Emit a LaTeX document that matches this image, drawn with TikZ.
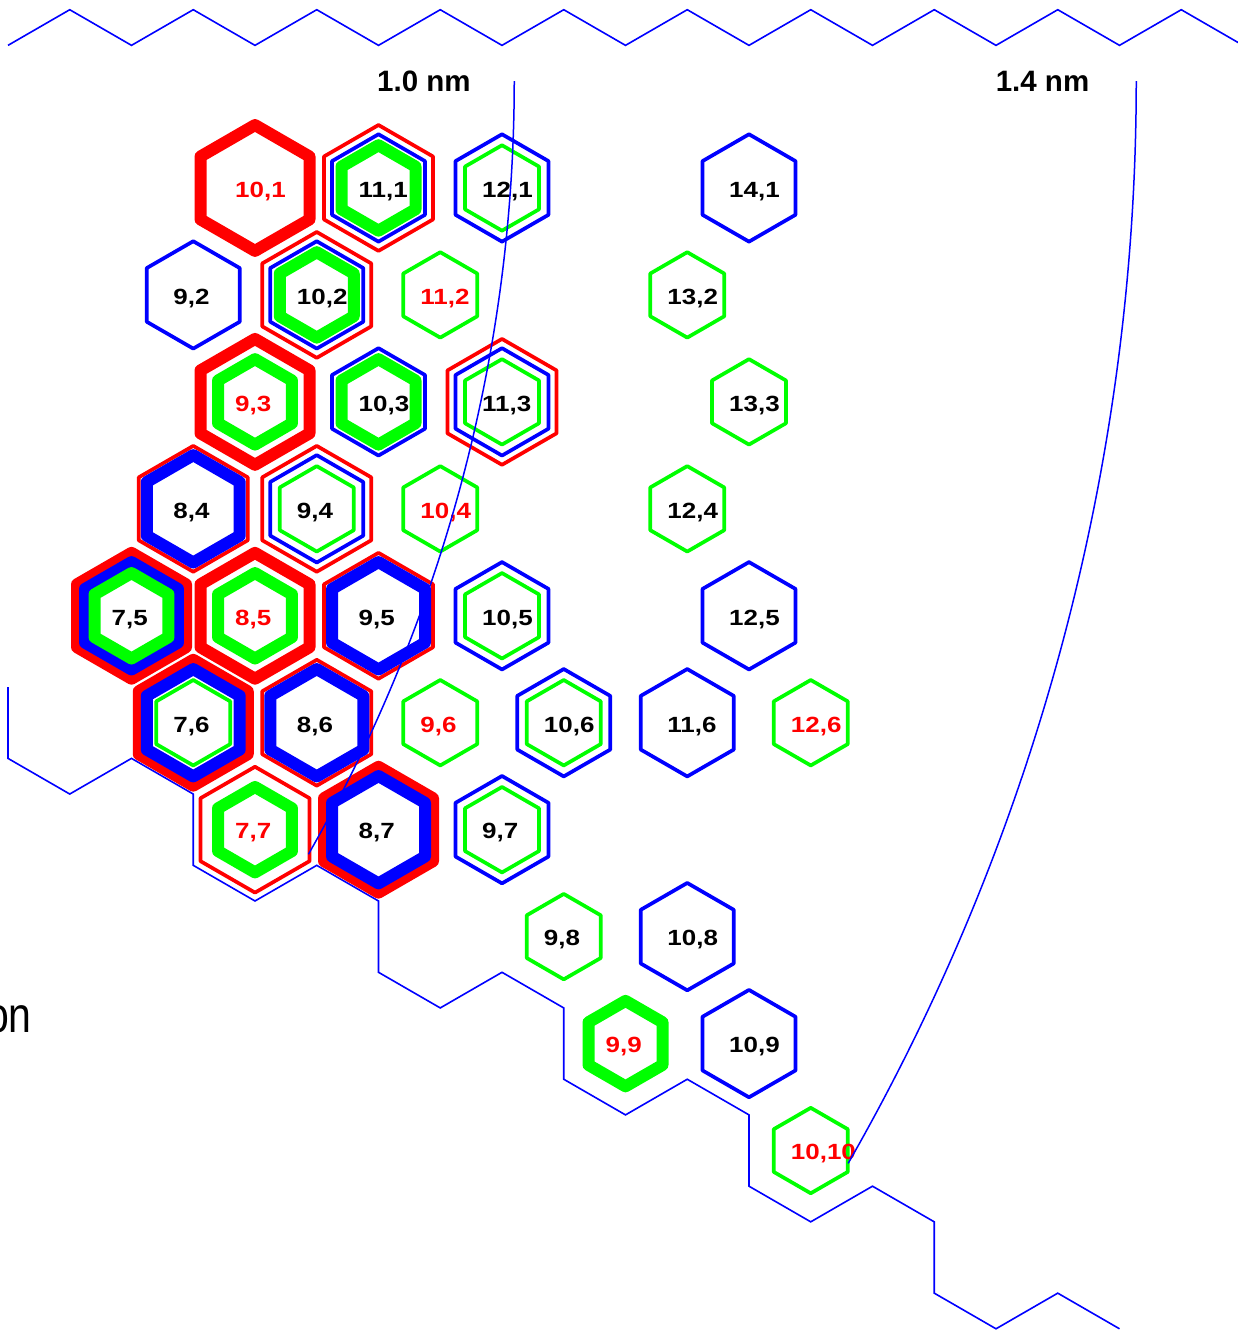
\documentclass[tikz,border=0pt]{standalone}
\usepackage{fontspec}
\usetikzlibrary{calc}
\setmainfont{Liberation Sans}
\newfontfamily\labfont{Liberation Sans}[FakeStretch=1.18]
\newfontfamily\cutfont{Liberation Sans}[FakeStretch=0.82]
\definecolor{hred}{RGB}{255,0,0}
\definecolor{hblue}{RGB}{0,0,255}
\definecolor{hgreen}{RGB}{0,255,0}
\def\hexRr{62.93pt}
\def\hexRb{53.69pt}
\def\hexRg{42.72pt}
\def\hexthin{3.7pt}
\def\hexthick{12pt}
\tikzset{
  ring/.style={line join=round},
  lab/.style={font=\labfont\bfseries\fontsize{22}{22}\selectfont, inner sep=0pt, anchor=base west},
  dialab/.style={font=\bfseries\fontsize{29.5}{30}\selectfont, inner sep=0pt, anchor=base west},
  edgeline/.style={draw=hblue, line width=1.6pt, line join=miter},
  dialine/.style={draw=hblue, line width=1.5pt},
}
\newcommand\hexring[3]{\draw[ring,draw=#1,line width=#2] (90:#3) -- (150:#3) -- (210:#3) -- (270:#3) -- (330:#3) -- (30:#3) -- cycle;}
\newcommand\tube[6]{%
  \begin{scope}[shift={({-1041.75+123.5*#1+61.75*#2},{81+106.955*#2})}]
    \ifcase#4\or\hexring{hred}{\hexthin}{\hexRr}\or\hexring{hred}{\hexthick}{\hexRr}\fi
    \ifcase#5\or\hexring{hblue}{\hexthin}{\hexRb}\or\hexring{hblue}{\hexthick}{\hexRb}\fi
    \ifcase#6\or\hexring{hgreen}{\hexthin}{\hexRg}\or\hexring{hgreen}{\hexthick}{\hexRg}\fi
    \node[lab,text=#3] (t#1x#2) at (-20,9.3) {#1,#2};
  \end{scope}}
\begin{document}
\begin{tikzpicture}[x=1pt,y=-1pt]
\fill[white] (0,0) rectangle (1238,1331);
\useasboundingbox (0,0) rectangle (1238,1331);
% lattice origin (0,0)
\coordinate (origin) at (-1041.75,81);
% top zigzag edge
\draw[edgeline] (8,45.35) \foreach \k in {1,...,10} { -- ++(61.75,-35.65) -- ++(61.75,35.65) };
% armchair staircase edge
\draw[edgeline] (8,687.08) \foreach \k in {1,...,6} { -- ++(0,71.3) -- ++(61.75,35.65) -- ++(61.75,-35.65) -- ++(61.75,35.65) };
% tubes
\tube{10}{1}{hred}{2}{0}{0}
\tube{11}{1}{black}{1}{1}{2}
\tube{12}{1}{black}{0}{1}{1}
\tube{14}{1}{black}{0}{1}{0}
\tube{9}{2}{black}{0}{1}{0}
\tube{10}{2}{black}{1}{1}{2}
\tube{11}{2}{hred}{0}{0}{1}
\tube{13}{2}{black}{0}{0}{1}
\tube{9}{3}{hred}{2}{0}{2}
\tube{10}{3}{black}{0}{1}{2}
\tube{11}{3}{black}{1}{1}{1}
\tube{13}{3}{black}{0}{0}{1}
\tube{8}{4}{black}{1}{2}{0}
\tube{9}{4}{black}{1}{1}{1}
\tube{10}{4}{hred}{0}{0}{1}
\tube{12}{4}{black}{0}{0}{1}
\tube{7}{5}{black}{2}{2}{2}
\tube{8}{5}{hred}{2}{0}{2}
\tube{9}{5}{black}{1}{2}{0}
\tube{10}{5}{black}{0}{1}{1}
\tube{12}{5}{black}{0}{1}{0}
\tube{7}{6}{black}{2}{2}{1}
\tube{8}{6}{black}{1}{2}{0}
\tube{9}{6}{hred}{0}{0}{1}
\tube{10}{6}{black}{0}{1}{1}
\tube{11}{6}{black}{0}{1}{0}
\tube{12}{6}{hred}{0}{0}{1}
\tube{7}{7}{hred}{1}{0}{2}
\tube{8}{7}{black}{2}{2}{0}
\tube{9}{7}{black}{0}{1}{1}
\tube{9}{8}{black}{0}{0}{1}
\tube{10}{8}{black}{0}{1}{0}
\tube{9}{9}{hred}{0}{0}{2}
\tube{10}{9}{black}{0}{1}{0}
\tube{10}{10}{hred}{0}{0}{1}
% constant-diameter lines
\draw[dialine] ($(origin)+(1556,0)$) arc[start angle=0,end angle=-29.8,radius=1556pt];
\draw[dialine] ($(origin)+(2178,0)$) arc[start angle=0,end angle=-29.8,radius=2178pt];
\node[dialab] (d10) at (377,91.7) {1.0 nm};
\node[dialab] (d14) at (995.6,91.7) {1.4 nm};
\node[font=\cutfont\fontsize{50}{50}\selectfont, inner sep=0pt, anchor=base east] (cut) at (32,1032) {on};
\end{tikzpicture}
\end{document}
